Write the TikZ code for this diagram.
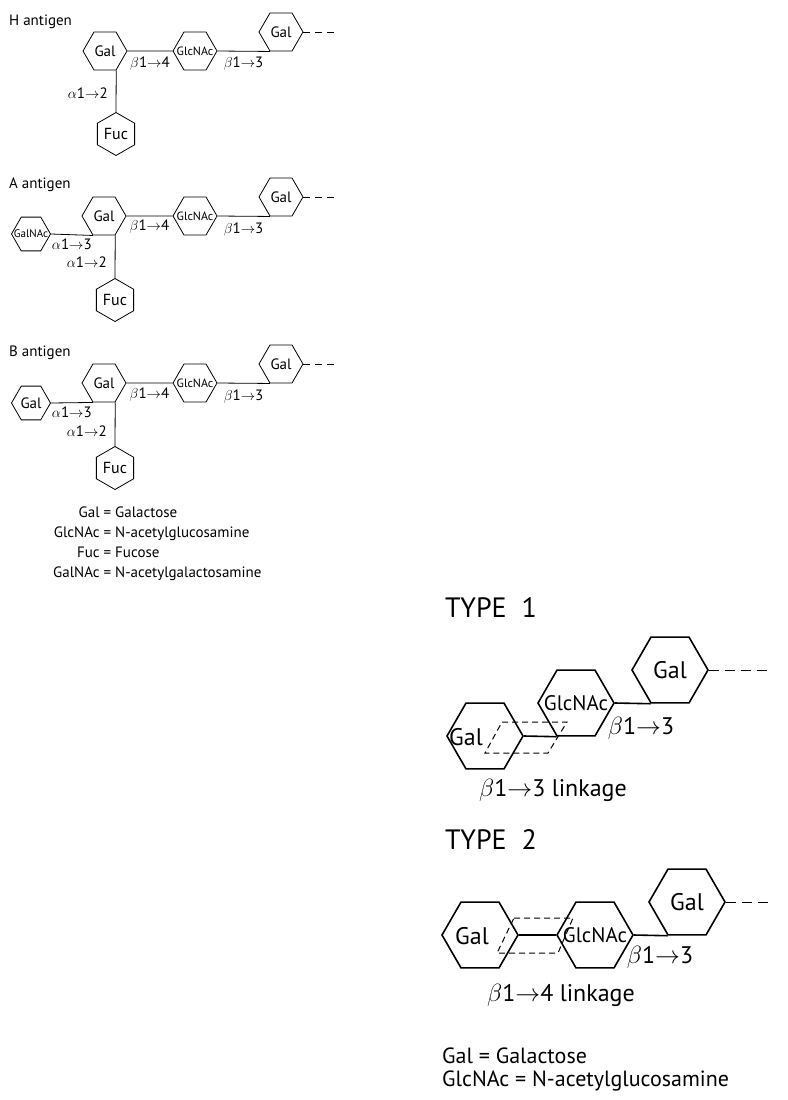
\documentclass[tikz,border=0pt]{standalone}
\usepackage{fontspec}
\setmainfont{PT Sans}
\usetikzlibrary{shapes.geometric,positioning}

\newcommand{\blink}[1]{$\beta$1$\rightarrow$#1}
\newcommand{\alink}[1]{$\alpha$1$\rightarrow$#1}
\newcommand{\sug}[1]{\makebox[0pt]{#1}}

\tikzset{
  sugar/.style={draw, regular polygon, regular polygon sides=6, inner sep=0pt},
  hexs/.style={sugar, minimum size=44pt, line width=0.8pt, font=\fontsize{15}{18}\selectfont},
  hexside/.style={sugar, minimum size=39pt, line width=0.8pt, font=\fontsize{15}{18}\selectfont},
  hexfuc/.style={sugar, minimum size=43pt, line width=0.8pt, shape border rotate=30, font=\fontsize{16}{18}\selectfont},
  hexbig/.style={sugar, minimum size=76pt, line width=1.6pt, font=\fontsize{24}{28}\selectfont},
  bond/.style={line width=0.8pt},
  bigbond/.style={line width=1.6pt},
  tail/.style={line width=0.8pt, dash pattern=on 7pt off 5pt},
  bigtail/.style={line width=1pt, dash pattern=on 10pt off 6pt},
  linkbox/.style={line width=1pt, dash pattern=on 6pt off 4pt},
  lab/.style={font=\fontsize{15}{20}\selectfont, inner sep=1pt},
  biglab/.style={font=\fontsize{24}{21}\selectfont, inner sep=1pt},
  title/.style={font=\fontsize{28}{32}\selectfont, inner sep=0pt, anchor=west},
}

\begin{document}
\begin{tikzpicture}[x=1pt,y=-1pt]
\useasboundingbox (0,0) rectangle (787,1100);
% H antigen
\node[lab, anchor=west] (hname) at (8,22) {H antigen};
\node[hexs] (hgal) at (105,51) {\sug{Gal}};
\node[hexs, font=\fontsize{12}{12}\selectfont] (hglc) at (195,51) {\sug{GlcNAc}};
\node[hexs] (hgal2) at (281,32) {\sug{Gal}};
\node[hexfuc] (hfuc) at (116,134) {\sug{Fuc}};
\coordinate[right=34pt of hgal2.0] (hend);
\draw[bond] (hgal.0) -- node[lab, below=4pt] {\blink{4}} (hglc.180);
\draw[bond] (hglc.0) -- node[lab, below=4pt] {\blink{3}} (hgal2.240);
\draw[bond] (hgal.300) -- node[lab, pos=0.55, left=7pt] {\alink{2}} (hfuc.90);
\draw[tail] (hgal2.0) -- (hend);
% A antigen
\node[lab, anchor=west] (aname) at (8,185) {A antigen};
\node[hexside, font=\fontsize{11}{11}\selectfont] (anac) at (31,234) {\sug{GalNAc}};
\node[hexs] (agal) at (104,216) {\sug{Gal}};
\node[hexs, font=\fontsize{12}{12}\selectfont] (aglc) at (195,216) {\sug{GlcNAc}};
\node[hexs] (agal2) at (281,197) {\sug{Gal}};
\node[hexfuc] (afuc) at (115,300) {\sug{Fuc}};
\coordinate[right=34pt of agal2.0] (aend);
\draw[bond] (anac.0) -- node[lab, below=3pt] {\alink{3}} (agal.240);
\draw[bond] (agal.0) -- node[lab, below=2pt] {\blink{4}} (aglc.180);
\draw[bond] (aglc.0) -- node[lab, below=5pt] {\blink{3}} (agal2.240);
\draw[bond] (agal.300) -- node[lab, pos=0.62, left=7pt] {\alink{2}} (afuc.90);
\draw[tail] (agal2.0) -- (aend);
% B antigen
\node[lab, anchor=west] (bname) at (8,353) {B antigen};
\node[hexside] (bside) at (31,403) {\sug{Gal}};
\node[hexs] (bgal) at (104,383) {\sug{Gal}};
\node[hexs, font=\fontsize{12}{12}\selectfont] (bglc) at (195,383) {\sug{GlcNAc}};
\node[hexs] (bgal2) at (281,364) {\sug{Gal}};
\node[hexfuc] (bfuc) at (115,468) {\sug{Fuc}};
\coordinate[right=34pt of bgal2.0] (bend);
\draw[bond] (bside.0) -- node[lab, below=3pt] {\alink{3}} (bgal.240);
\draw[bond] (bgal.0) -- node[lab, below=3pt] {\blink{4}} (bglc.180);
\draw[bond] (bglc.0) -- node[lab, below=5pt] {\blink{3}} (bgal2.240);
\draw[bond] (bgal.300) -- node[lab, pos=0.65, left=7pt] {\alink{2}} (bfuc.90);
\draw[tail] (bgal2.0) -- (bend);
% key
\node[lab, anchor=west] (key) at (52,543) {\begin{tabular}{@{}r@{ = }l@{}}
Gal & Galactose\\
GlcNAc & N-acetylglucosamine\\
Fuc & Fucose\\
GalNAc & N-acetylgalactosamine
\end{tabular}};
% type 1
\node[title] (t1name) at (445,608) {TYPE\ \ 1};
\node[hexbig] (t1gal) at (485,736) {};
\node[biglab] (t1galtext) at (466,737) {Gal};
\node[hexbig, font=\fontsize{21}{24}\selectfont] (t1glc) at (576,703) {\sug{GlcNAc}};
\node[hexbig] (t1gal2) at (670,670) {\sug{Gal}};
\coordinate[right=60pt of t1gal2.0] (t1end);
\draw[bigbond] (t1gal.0) -- (t1glc.240);
\draw[bigbond] (t1glc.0) -- (t1gal2.240);
\draw[bigtail] (t1gal2.0) -- (t1end);
\draw[linkbox] (502,722) -- (567,722) -- (548,753) -- (485,753) -- cycle;
\node[biglab] (t1bond) at (641,728) {\blink{3}};
\node[biglab] (t1link) at (553,790) {\blink{3} linkage};
% type 2
\node[title] (t2name) at (445,840) {TYPE\ \ 2};
\node[hexbig] (t2gal) at (480,935) {};
\node[biglab] (t2galtext) at (472,936) {Gal};
\node[hexbig, font=\fontsize{21}{24}\selectfont] (t2glc) at (595,935) {\sug{GlcNAc}};
\node[hexbig] (t2gal2) at (687,902) {\sug{Gal}};
\coordinate[right=43pt of t2gal2.0] (t2end);
\draw[bigbond] (t2gal.0) -- (t2glc.180);
\draw[bigbond] (t2glc.0) -- (t2gal2.240);
\draw[bigtail] (t2gal2.0) -- (t2end);
\draw[linkbox] (514,918) -- (573,918) -- (558,953) -- (497,953) -- cycle;
\node[biglab] (t2bond) at (660,957) {\blink{3}};
\node[biglab] (t2link) at (561,995) {\blink{4} linkage};
% key
\node[biglab, anchor=north west, align=left, font=\fontsize{22}{23}\selectfont] (key2) at (441,1047) {Gal = Galactose\\GlcNAc = N-acetylglucosamine};
\end{tikzpicture}
\end{document}
